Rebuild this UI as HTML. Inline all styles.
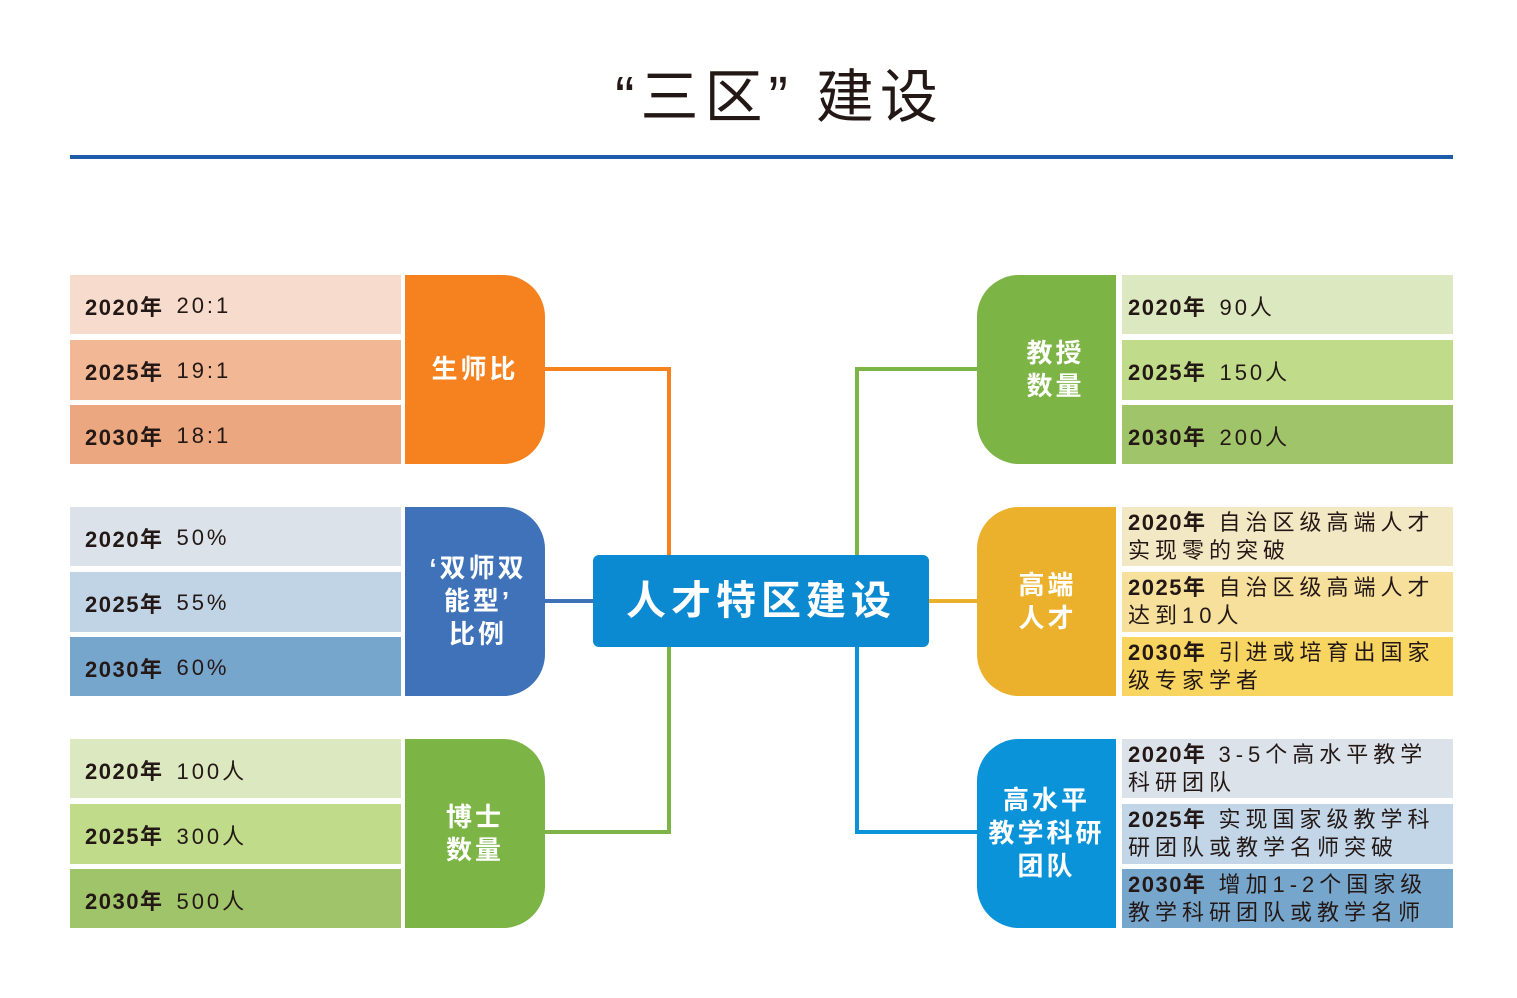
<!DOCTYPE html>
<html><head><meta charset="utf-8"><style>
body{margin:0;width:1517px;height:998px;background:#fff;position:relative;font-family:"Liberation Sans","Noto Sans CJK SC",sans-serif;overflow:hidden}
.a{position:absolute;box-sizing:border-box}
.t{font-size:22px;color:#231815;letter-spacing:3px;display:flex;align-items:center;padding-left:15px;padding-top:2px}
.t b{margin-right:13px;letter-spacing:1.5px}
.m{font-size:22px;color:#231815;letter-spacing:5px;line-height:28px;padding:2px 0 0 6px}
.m b{letter-spacing:1.5px;margin-right:12px}
.lab{color:#fff;font-weight:bold;font-size:26px;display:flex;align-items:center;justify-content:center;text-align:center;line-height:33px;letter-spacing:3px}
.L{border-radius:0 42px 42px 0}
.R{border-radius:42px 0 0 42px}
</style></head><body>
<div class="a" style="left:0;width:1517px;top:50px;text-align:center;font-size:58px;color:#231815;letter-spacing:6px;padding-left:42px">“三区”&nbsp;建设</div>
<div class="a" style="left:70px;top:155px;width:1383px;height:4px;background:#1d5ca8"></div>

<svg class="a" style="left:0;top:0" width="1517" height="998">
<g fill="none" stroke-width="4">
<polyline points="545,369 669,369 669,556" stroke="#f5821f"/>
<line x1="545" y1="601" x2="594" y2="601" stroke="#3f72b8"/>
<polyline points="545,832 669,832 669,646" stroke="#7db446"/>
<polyline points="977,369 857,369 857,556" stroke="#7db446"/>
<line x1="928" y1="601" x2="977" y2="601" stroke="#ecb12c"/>
<polyline points="977,832 857,832 857,646" stroke="#0a93d8"/>
</g></svg>

<div class="a lab" style="left:593px;top:555px;width:336px;height:92px;background:#0b8ad2;border-radius:6px;font-size:40px;letter-spacing:5px">人才特区建设</div>

<div class="a t" style="left:70px;top:275px;width:331px;height:59px;background:#f7dccd"><b>2020年</b>20:1</div>
<div class="a t" style="left:70px;top:340px;width:331px;height:60px;background:#f2b896"><b>2025年</b>19:1</div>
<div class="a t" style="left:70px;top:405px;width:331px;height:59px;background:#eba880"><b>2030年</b>18:1</div>
<div class="a lab L" style="left:405px;top:275px;width:140px;height:189px;background:#f5821f">生师比</div>

<div class="a t" style="left:70px;top:507px;width:331px;height:59px;background:#dbe2ea"><b>2020年</b>50%</div>
<div class="a t" style="left:70px;top:572px;width:331px;height:60px;background:#c0d4e6"><b>2025年</b>55%</div>
<div class="a t" style="left:70px;top:637px;width:331px;height:59px;background:#77a6cd"><b>2030年</b>60%</div>
<div class="a lab L" style="left:405px;top:507px;width:140px;height:189px;background:#3f72b8;padding-left:6px">‘双师双<br>能型’<br>比例</div>

<div class="a t" style="left:70px;top:739px;width:331px;height:59px;background:#dce8c0"><b>2020年</b>100人</div>
<div class="a t" style="left:70px;top:804px;width:331px;height:60px;background:#c0dc8a"><b>2025年</b>300人</div>
<div class="a t" style="left:70px;top:869px;width:331px;height:59px;background:#a0c46a"><b>2030年</b>500人</div>
<div class="a lab L" style="left:405px;top:739px;width:140px;height:189px;background:#7db446">博士<br>数量</div>

<div class="a lab R" style="left:977px;top:275px;width:139px;height:189px;background:#7db446;padding-left:18px">教授<br>数量</div>
<div class="a t" style="left:1122px;top:275px;width:331px;height:59px;background:#dce8c0;padding-left:6px"><b>2020年</b>90人</div>
<div class="a t" style="left:1122px;top:340px;width:331px;height:60px;background:#c0dc8a;padding-left:6px"><b>2025年</b>150人</div>
<div class="a t" style="left:1122px;top:405px;width:331px;height:59px;background:#a0c46a;padding-left:6px"><b>2030年</b>200人</div>

<div class="a lab R" style="left:977px;top:507px;width:139px;height:189px;background:#ecb12c;padding-left:2px">高端<br>人才</div>
<div class="a m" style="left:1122px;top:507px;width:331px;height:59px;background:#f3e8c4"><b>2020年</b>自治区级高端人才实现零的突破</div>
<div class="a m" style="left:1122px;top:572px;width:331px;height:60px;background:#f6e09c"><b>2025年</b>自治区级高端人才达到10人</div>
<div class="a m" style="left:1122px;top:637px;width:331px;height:59px;background:#f8d560"><b>2030年</b>引进或培育出国家级专家学者</div>

<div class="a lab R" style="left:977px;top:739px;width:139px;height:189px;background:#0a93d8">高水平<br>教学科研<br>团队</div>
<div class="a m" style="left:1122px;top:739px;width:331px;height:59px;background:#dbe2ea"><b>2020年</b>3-5个高水平教学科研团队</div>
<div class="a m" style="left:1122px;top:804px;width:331px;height:60px;background:#c2d6e8"><b>2025年</b>实现国家级教学科研团队或教学名师突破</div>
<div class="a m" style="left:1122px;top:869px;width:331px;height:59px;background:#77a6cd"><b>2030年</b>增加1-2个国家级教学科研团队或教学名师</div>
</body></html>
